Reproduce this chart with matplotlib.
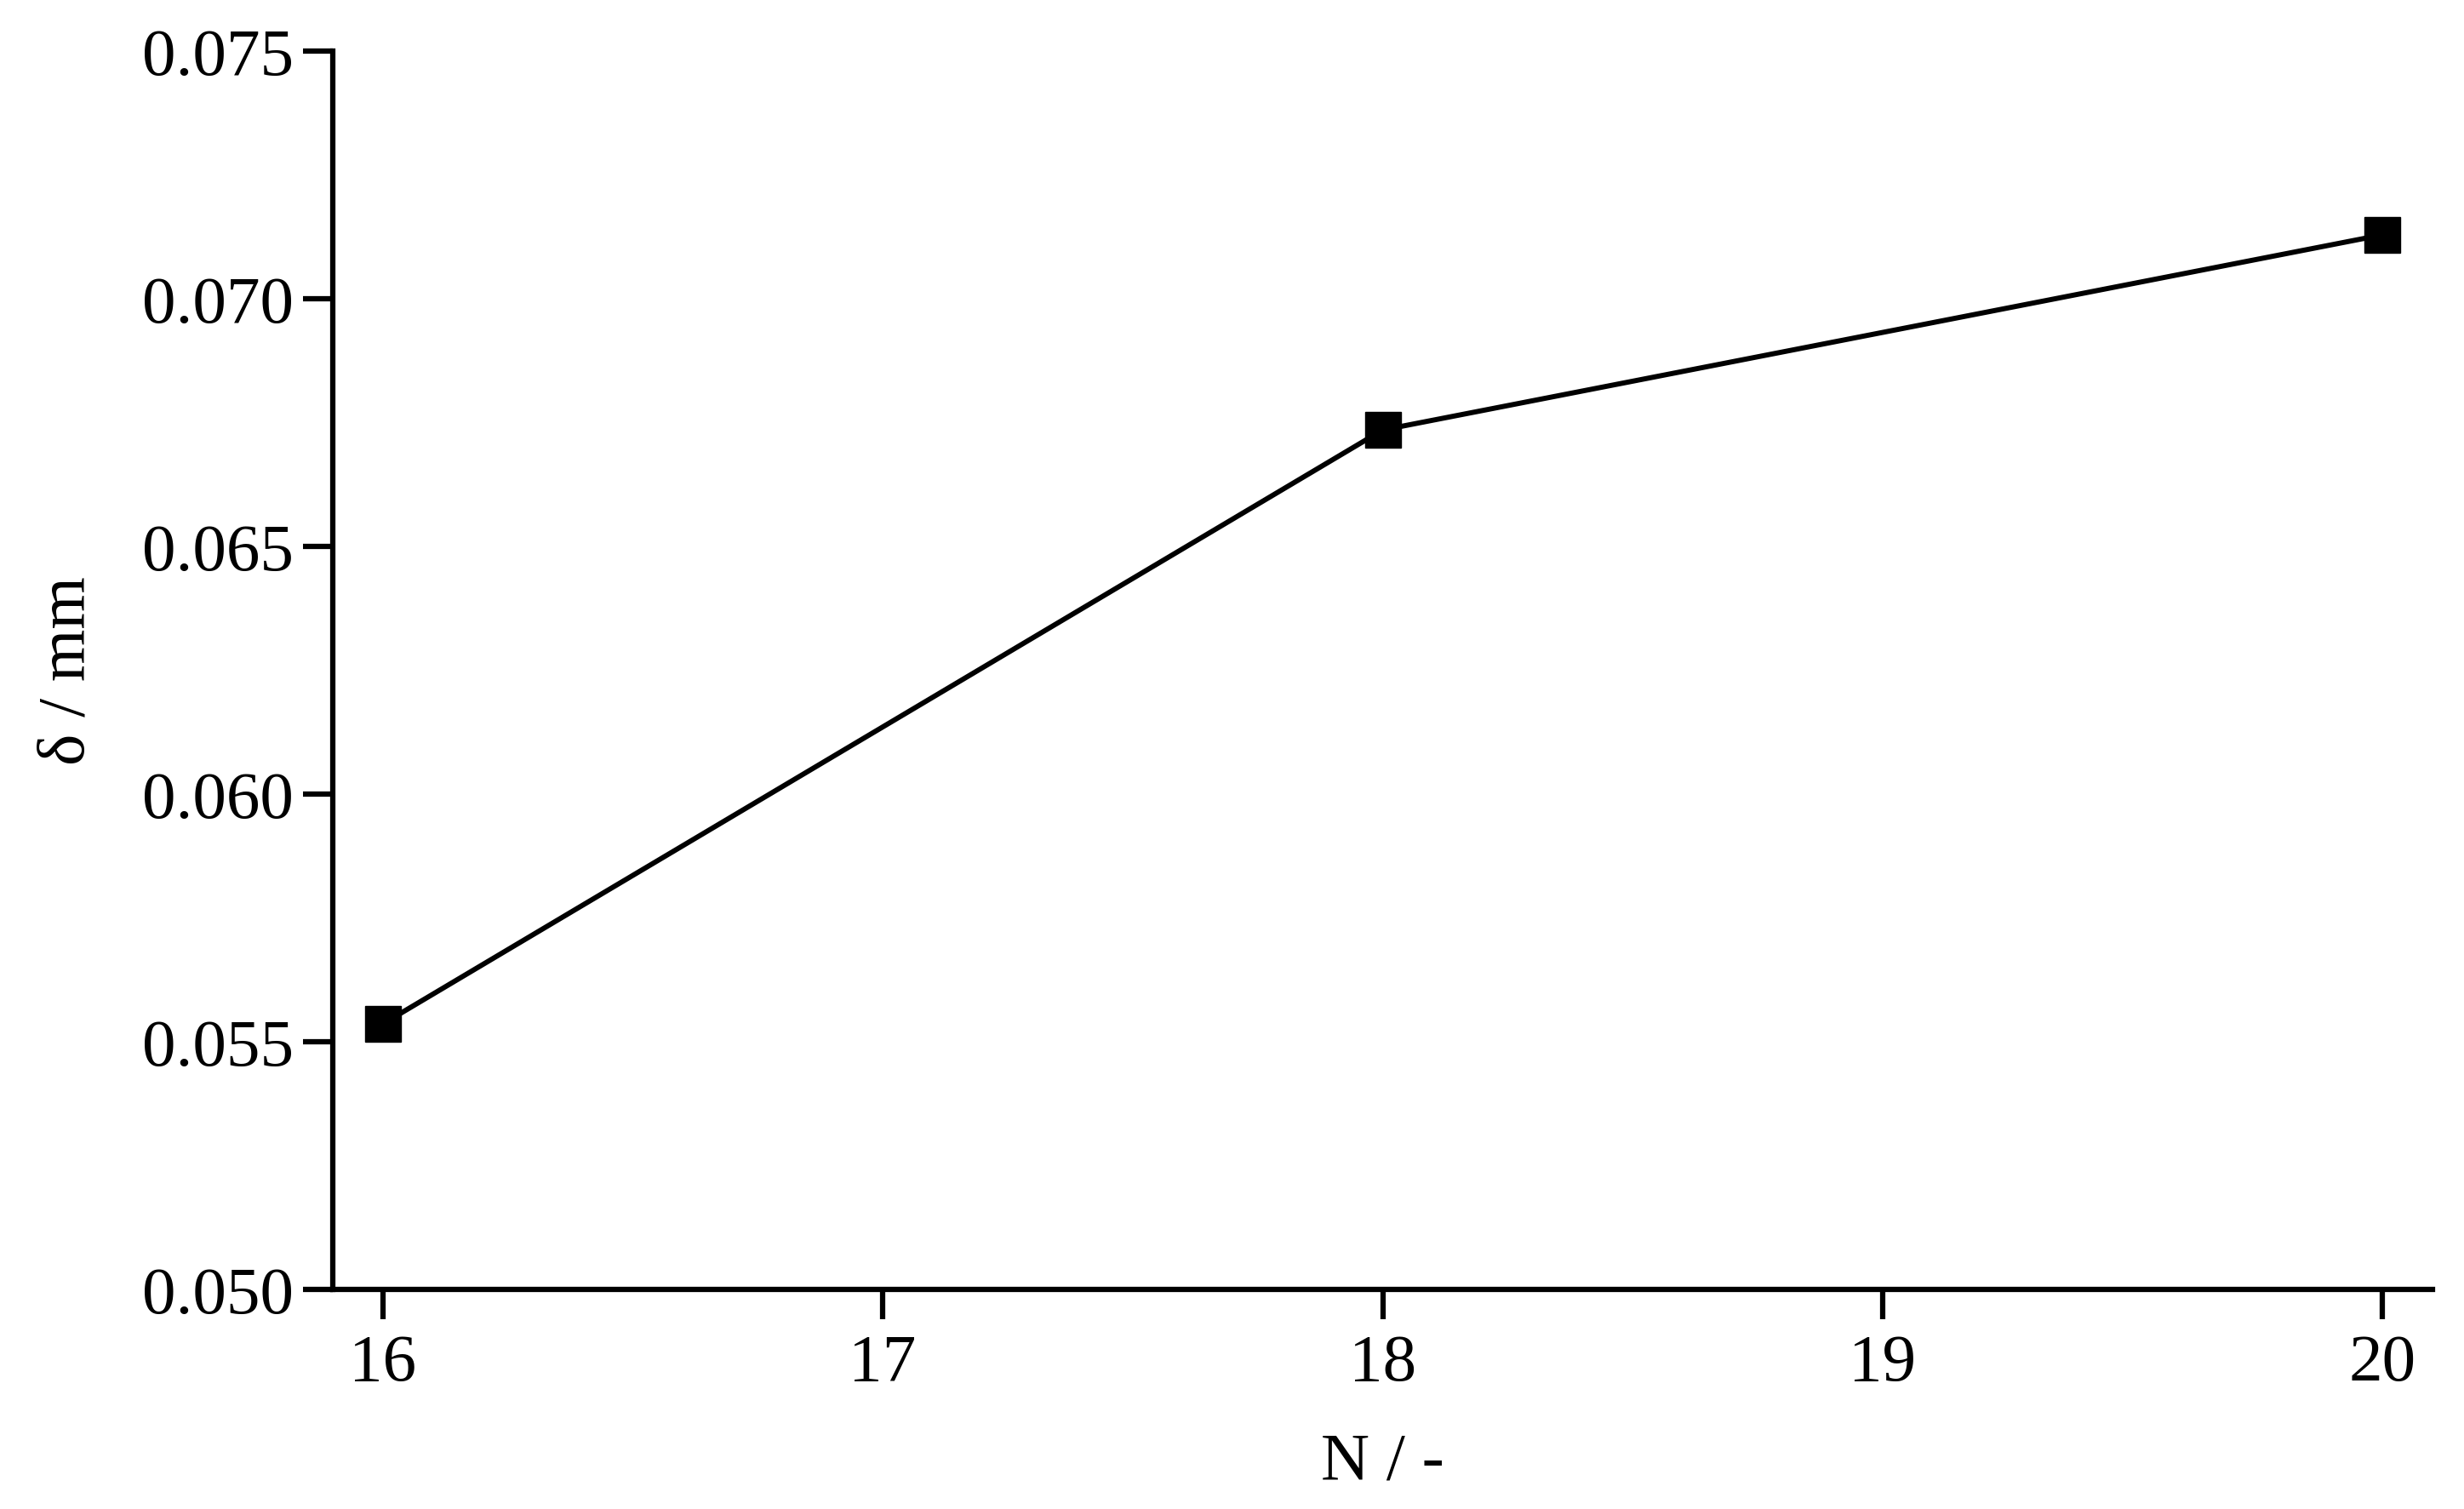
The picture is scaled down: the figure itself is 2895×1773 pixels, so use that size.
import matplotlib.pyplot as plt
import numpy as np

# data
N = [16, 18, 20]
delta = [0.05536, 0.06735, 0.07129]
xticks = [16, 17, 18, 19, 20]
yticks = [0.050, 0.055, 0.060, 0.065, 0.070, 0.075]

plt.rcParams['font.family'] = ['Liberation Serif', 'DejaVu Serif']

fig = plt.figure(figsize=(28.95, 17.74), dpi=100)
ax = fig.add_axes([391/2895, 1 - 1516/1774, (2858-391)/2895, (1516-61)/1774])

ax.plot(N, delta, color='black', lw=4.3, marker='s', ms=30, mec='black', mfc='black')

ax.set_xlim(15.9, 20.1)
ax.set_ylim(0.050, 0.075)
ax.set_xticks(xticks)
ax.set_yticks(yticks)
ax.set_yticklabels(['%.3f' % v for v in yticks])

for s in ['top', 'right']:
    ax.spines[s].set_visible(False)
for s in ['left', 'bottom']:
    ax.spines[s].set_linewidth(4.5)
ax.tick_params(direction='out', length=25, width=4.5, labelsize=57, color='black')
ax.tick_params(axis='y', pad=8)
ax.tick_params(axis='x', pad=12)

ax.set_xlabel('N / -', fontsize=57, labelpad=32)
ax.set_ylabel('δ / mm', fontsize=57, labelpad=37)

fig.savefig('out.png', dpi=100)
